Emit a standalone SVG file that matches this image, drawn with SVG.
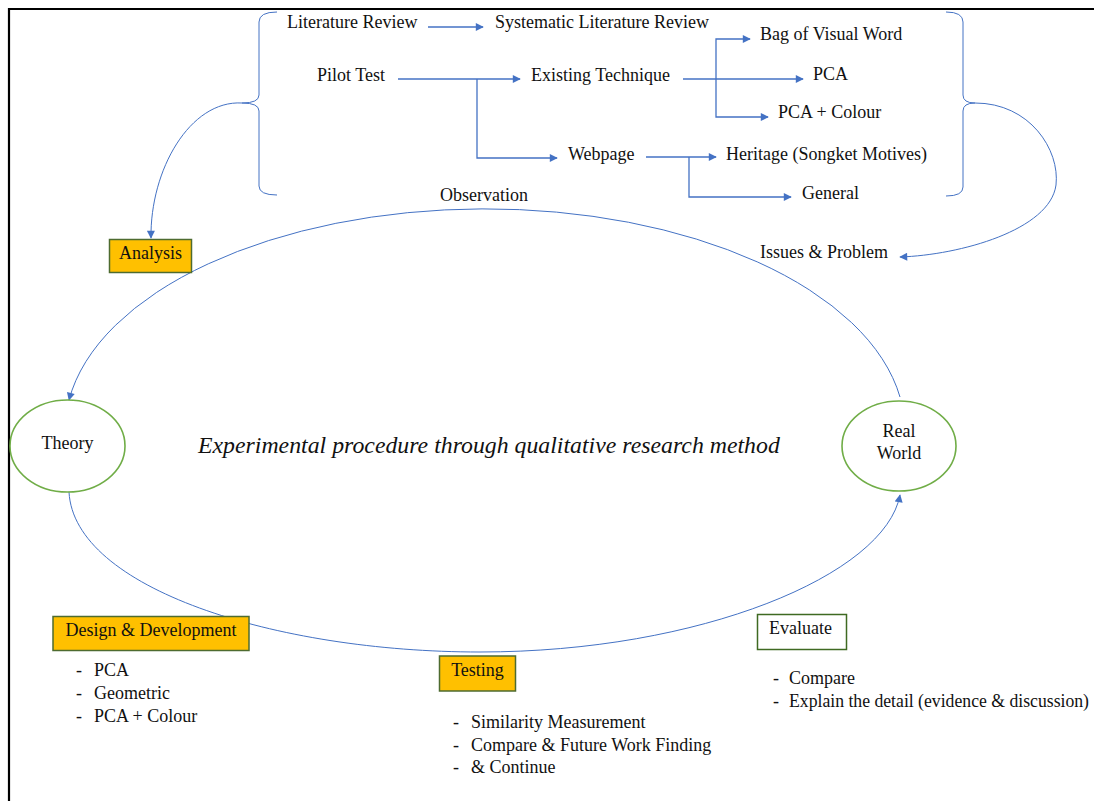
<svg xmlns="http://www.w3.org/2000/svg" width="1094" height="801" viewBox="0 0 1094 801">
<style>
text{font-family:"Liberation Serif","Times New Roman",serif;font-size:18px;fill:#111}
.c{text-anchor:middle}
.ln{fill:none;stroke:#4472C4;stroke-width:1.3}
.thin{fill:none;stroke:#4472C4;stroke-width:1}
.brace{fill:none;stroke:#4472C4;stroke-width:1}
.circ{fill:#fff;stroke:#70AD47;stroke-width:1.6}
.box{fill:#FFC000;stroke:#4E6B30;stroke-width:1.5}
.wbox{fill:#fff;stroke:#3F6A22;stroke-width:1.5}
</style>
<defs>
<marker id="ah" viewBox="0 0 10 10" refX="9" refY="5" markerWidth="9" markerHeight="8" markerUnits="userSpaceOnUse" orient="auto"><path d="M0,0 L10,5 L0,10 z" fill="#4472C4"/></marker>
</defs>
<rect width="1094" height="801" fill="#fff"/>
<path d="M9,801 V9 H1094" fill="none" stroke="#000" stroke-width="2.2"/>

<g id="connectors">
<path class="thin" d="M900,397 A420 222 0 0 0 69,400" marker-end="url(#ah)"/>
<path class="thin" d="M69,492 C74,588 275,652 480,652 C700,652 885,575 900,495" marker-end="url(#ah)"/>
<path class="brace" d="M277,12 Q259,12 259,22 L259,95 Q259,103 242,103 Q259,103 259,111 L259,186 Q259,195 277,195"/>
<path class="brace" d="M946,12 Q963,12 963,22 L963,95 Q963,103 975,103 Q963,103 963,111 L963,187 Q963,196 946,196"/>
<path class="thin" d="M242,103 C190,100 150,170 151,238" marker-end="url(#ah)"/>
<path class="thin" d="M975,103 C1030,103 1060,150 1056,185 C1050,230 960,255 900,257" marker-end="url(#ah)"/>
<path class="ln" d="M428,27 H483" marker-end="url(#ah)"/>
<path class="ln" d="M398,79 H520" marker-end="url(#ah)"/>
<path class="ln" d="M477,79 V158 H557" marker-end="url(#ah)"/>
<path class="ln" d="M683,79 H803" marker-end="url(#ah)"/>
<path class="ln" d="M716,79 V39 H750" marker-end="url(#ah)"/>
<path class="ln" d="M716,79 V117 H768" marker-end="url(#ah)"/>
<path class="ln" d="M646,157 H716" marker-end="url(#ah)"/>
<path class="ln" d="M689,157 V197 H791" marker-end="url(#ah)"/>
</g>

<g id="n-lit"><text x="287" y="28">Literature Review</text></g>
<g id="n-slr"><text x="495" y="28">Systematic Literature Review</text></g>
<g id="n-bovw"><text x="760" y="40">Bag of Visual Word</text></g>
<g id="n-pilot"><text x="317" y="81">Pilot Test</text></g>
<g id="n-exist"><text x="531" y="81">Existing Technique</text></g>
<g id="n-pca"><text x="813" y="80">PCA</text></g>
<g id="n-pcac"><text x="778" y="118">PCA + Colour</text></g>
<g id="n-web"><text x="568" y="160">Webpage</text></g>
<g id="n-her"><text x="726" y="160">Heritage (Songket Motives)</text></g>
<g id="n-gen"><text x="802" y="199">General</text></g>
<g id="n-obs"><text x="440" y="201">Observation</text></g>
<g id="n-issues"><text x="760" y="258">Issues &amp; Problem</text></g>

<g id="n-analysis"><rect class="box" x="109.5" y="239.5" width="82" height="33"/><text class="c" x="150.5" y="259">Analysis</text></g>
<g id="n-theory"><ellipse class="circ" cx="67.5" cy="446" rx="57.5" ry="46"/><text class="c" x="67.5" y="449">Theory</text></g>
<g id="n-real"><ellipse class="circ" cx="899" cy="446" rx="57" ry="45"/><text class="c" x="899" y="437">Real</text><text class="c" x="899" y="459">World</text></g>
<g id="n-center"><text x="198" y="453" style="font-style:italic;font-size:23.8px">Experimental procedure through qualitative research method</text></g>

<g id="n-design"><rect class="box" x="53" y="616.5" width="196" height="34"/><text class="c" x="151" y="636">Design &amp; Development</text>
<text x="76" y="676">-</text><text x="94" y="676">PCA</text>
<text x="76" y="699">-</text><text x="94" y="699">Geometric</text>
<text x="76" y="722">-</text><text x="94" y="722">PCA + Colour</text></g>

<g id="n-testing"><rect class="box" x="439.5" y="656" width="76" height="35"/><text class="c" x="477.5" y="676">Testing</text>
<text x="453" y="728">-</text><text x="471" y="728">Similarity Measurement</text>
<text x="453" y="751">-</text><text x="471" y="751">Compare &amp; Future Work Finding</text>
<text x="453" y="773">-</text><text x="471" y="773">&amp; Continue</text></g>

<g id="n-eval"><rect class="wbox" x="757.5" y="614.5" width="89" height="35"/><text x="769" y="634">Evaluate</text>
<text x="773" y="684">-</text><text x="789" y="684">Compare</text>
<text x="773" y="707">-</text><text x="789" y="707" textLength="300" lengthAdjust="spacingAndGlyphs">Explain the detail (evidence &amp; discussion)</text></g>
</svg>
